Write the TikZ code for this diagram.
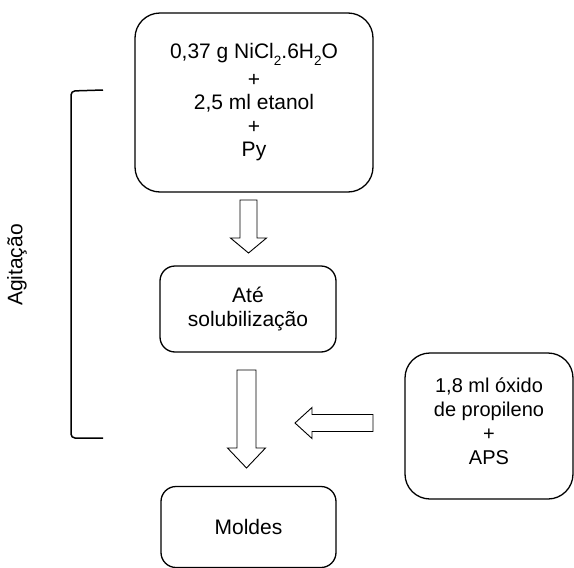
\documentclass[tikz,border=0pt]{standalone}
\usepackage{fontspec}
\setmainfont{Liberation Sans}
\usepackage{tikz}
\usetikzlibrary{calc}
\tikzstyle{caixa}=[draw,line width=1.3pt,align=center,inner sep=0pt,font=\fontsize{21}{23.5}\selectfont]
\tikzstyle{seta}=[draw,line width=0.9pt,line join=miter]
\tikzstyle{chave}=[draw,line width=1.5pt,rounded corners=4pt]
\newcommand{\indice}[1]{\raisebox{-7pt}{\fontsize{13.5}{13.5}\selectfont #1}}

\begin{document}
\begin{tikzpicture}[x=1pt,y=-1pt]
          \useasboundingbox (0,0) rectangle (574,568);

          \node[caixa,minimum width=238pt,minimum height=179pt,rounded corners=25pt] (prep) at (254,102.5)
            {0,37 g NiCl\indice{2}.6H\indice{2}O\\[4pt] +\\ 2,5 ml etanol\\ +\\ Py};
          \node[caixa,minimum width=176pt,minimum height=86pt,rounded corners=15pt] (solub) at (248,309)
            {Até\\ solubilização};
          \node[caixa,minimum width=175pt,minimum height=81pt,rounded corners=15pt] (moldes) at (248.5,527)
            {Moldes};
          \node[caixa,minimum width=168pt,minimum height=146pt,rounded corners=25pt,font=\fontsize{20}{24}\selectfont,text depth=10pt] (adic) at (489,426)
            {1,8 ml óxido\\ de propileno\\ +\\ APS};

          \node[rotate=90,inner sep=0pt,font=\fontsize{21}{23.5}\selectfont] (agit) at (17,265) {Agitação};

          \coordinate (a1s) at (248.5,200);
          \coordinate (a1e) at (248.5,253);
          \coordinate (a2s) at (246.5,370);
          \coordinate (a2e) at (246.5,468);
          \coordinate (a3s) at (373,423);
          \coordinate (a3e) at (295,423);

          \draw[seta] ($(a1s)+(-8.5,0)$) -- ($(a1e)+(-8.5,-15)$) -- ($(a1e)+(-18,-15)$) -- (a1e)
            -- ($(a1e)+(18,-15)$) -- ($(a1e)+(8.5,-15)$) -- ($(a1s)+(8.5,0)$) -- cycle;
          \draw[seta] ($(a2s)+(-9.5,0)$) -- ($(a2e)+(-9.5,-20)$) -- ($(a2e)+(-19,-20)$) -- (a2e)
            -- ($(a2e)+(19,-20)$) -- ($(a2e)+(9.5,-20)$) -- ($(a2s)+(9.5,0)$) -- cycle;
          \draw[seta] ($(a3s)+(0,-8.5)$) -- ($(a3e)+(17,-8.5)$) -- ($(a3e)+(17,-15.5)$) -- (a3e)
            -- ($(a3e)+(17,15.5)$) -- ($(a3e)+(17,8.5)$) -- ($(a3s)+(0,8.5)$) -- cycle;

          \coordinate (ch1) at (103,90);
          \coordinate (ch2) at (71,91);
          \coordinate (ch3) at (71,438);
          \coordinate (ch4) at (103,438);
          \draw[chave] (ch1) -- (ch2) -- (ch3) -- (ch4);
\end{tikzpicture}
\end{document}
